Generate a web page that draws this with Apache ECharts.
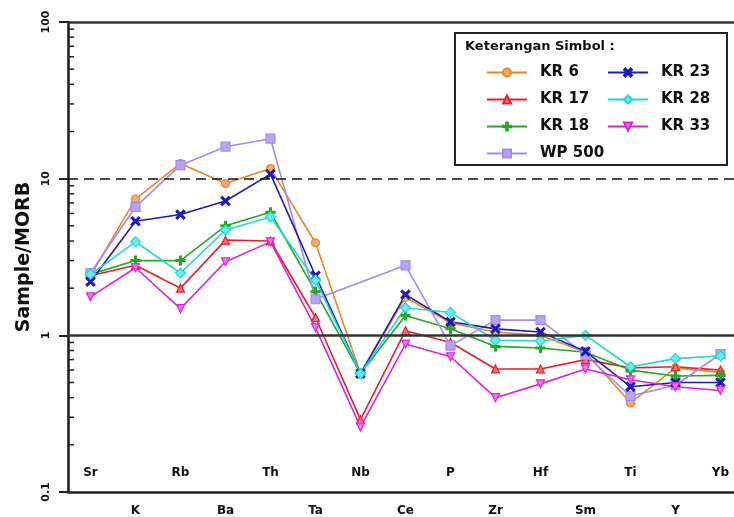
<!DOCTYPE html>
<html>
<head>
<meta charset="utf-8">
<script src="https://cdn.jsdelivr.net/npm/echarts@6/dist/echarts.min.js"></script>
<style>
  html, body { margin: 0; padding: 0; background: #fff; }
  #chart { width: 734px; height: 517px; }
</style>
</head>
<body>
<div id="chart"></div>
<script>
// unsur (elements) on the x axis
const cats = ['Sr', 'K', 'Rb', 'Ba', 'Th', 'Ta', 'Nb', 'Ce', 'P', 'Zr', 'Hf', 'Sm', 'Ti', 'Y', 'Yb'];

// Sample/MORB values
const kr6   = [2.4, 7.4, 12.5, 9.3, 11.6, 3.9, 0.57, 1.75, 1.2, 1.05, 1.0, 0.78, 0.37, 0.62, 0.58];
const kr17  = [2.4, 2.8, 2.0, 4.05, 4.0, 1.3, 0.29, 1.07, 0.9, 0.61, 0.61, 0.7, 0.62, 0.63, 0.6];
const kr18  = [2.45, 3.0, 3.0, 5.0, 6.1, 1.9, 0.57, 1.34, 1.1, 0.85, 0.83, 0.78, 0.6, 0.55, 0.555];
const wp500 = [2.5, 6.6, 12.2, 16, 18, 1.7, null, 2.8, 0.86, 1.25, 1.25, 0.75, 0.41, 0.48, 0.76];
const kr23  = [2.2, 5.35, 5.9, 7.2, 10.7, 2.4, 0.57, 1.82, 1.22, 1.1, 1.05, 0.79, 0.47, 0.5, 0.5];
const kr28  = [2.45, 3.95, 2.5, 4.7, 5.7, 2.25, 0.57, 1.5, 1.4, 0.93, 0.92, 1.0, 0.63, 0.71, 0.74];
const kr33  = [1.76, 2.7, 1.48, 2.95, 3.95, 1.12, 0.26, 0.88, 0.73, 0.40, 0.49, 0.61, 0.52, 0.47, 0.445];

// y axis minor ticks (log decades)
const minorTicks = [0.2, 0.3, 0.4, 0.5, 0.6, 0.7, 0.8, 0.9, 2, 3, 4, 5, 6, 7, 8, 9, 20, 30, 40, 50, 60, 70, 80, 90];
// reference lines
const refLines = [100, 10, 1];

const legendCol1 = ['KR 6', 'KR 17', 'KR 18', 'WP 500'];
const legendCol2 = ['KR 23', 'KR 28', 'KR 33'];

const font = 'DejaVu Sans';
const plusPath = 'path://M4,0H6V4H10V6H6V10H4V6H0V4H4Z';
const crossPath = 'path://M1.5,0L5,3.5L8.5,0L10,1.5L6.5,5L10,8.5L8.5,10L5,6.5L1.5,10L0,8.5L3.5,5L0,1.5Z';

function mkSeries(name, data, color, fill, symbol, extra) {
  return Object.assign({
    name: name,
    type: 'line',
    data: data,
    connectNulls: true,
    symbol: symbol,
    symbolSize: 8,
    lineStyle: { color: color, width: 1.6 },
    itemStyle: { color: fill, borderColor: color, borderWidth: 1.2 },
    z: 3
  }, extra || {});
}

const series = [
  mkSeries('KR 6', kr6, '#e8862c', '#f2ad6a', 'circle'),
  mkSeries('KR 17', kr17, '#e4202c', '#f07078', 'triangle'),
  mkSeries('KR 18', kr18, '#22aa22', '#22aa22', plusPath, { symbolSize: 9 }),
  mkSeries('WP 500', wp500, '#a58be8', '#b9a3f0', 'rect', { symbolSize: 9 }),
  mkSeries('KR 23', kr23, '#1c1cb8', '#1c1cb8', crossPath, { symbolSize: 9 }),
  mkSeries('KR 28', kr28, '#1ed8d8', '#6eeaea', 'diamond', { symbolSize: 10 }),
  mkSeries('KR 33', kr33, '#e020e0', '#ec78ec', 'triangle', { symbolRotate: 180 }),
  {
    type: 'custom',
    data: minorTicks,
    clip: false,
    silent: true,
    z: 5,
    renderItem: function (params, api) {
      const p = api.coord([0, api.value(0)]);
      const x = params.coordSys.x;
      return {
        type: 'line',
        shape: { x1: x, y1: p[1], x2: x + 6, y2: p[1] },
        style: { stroke: '#222', lineWidth: 1.5 }
      };
    },
    encode: { y: 0 }
  },
  {
    type: 'line',
    data: [],
    silent: true,
    markLine: {
      silent: true,
      symbol: 'none',
      label: { show: false },
      data: refLines.map(function (v) {
        return {
          yAxis: v,
          lineStyle: v === 10
            ? { color: '#111', width: 1.6, type: [10, 6] }
            : { color: '#333', width: 2.6, type: 'solid' }
        };
      })
    }
  }
];

const legendBase = {
  orient: 'vertical',
  itemWidth: 40,
  itemHeight: 10,
  itemGap: 12,
  z: 20,
  textStyle: { fontFamily: font, fontWeight: 'bold', fontSize: 15, color: '#111', padding: [0, 0, 0, 8] },
  selectedMode: false
};

const option = {
  animation: false,
  backgroundColor: '#fff',
  grid: { left: 68, right: -9, top: 22, bottom: 25, outerBoundsMode: 'none' },
  xAxis: [
    {
      type: 'category',
      data: cats,
      boundaryGap: true,
      axisLine: { lineStyle: { color: '#222', width: 2.6 } },
      axisTick: {
        inside: true, length: 8, alignWithLabel: true,
        interval: function (i) { return i % 2 === 0; },
        lineStyle: { color: '#222', width: 1.5 }
      },
      axisLabel: {
        inside: true, margin: 13, interval: 0,
        formatter: function (v, i) { return i % 2 === 0 ? v : ''; },
        fontFamily: font, fontWeight: 'bold', fontSize: 12, color: '#111'
      },
      splitLine: { show: false }
    },
    {
      type: 'category',
      data: cats,
      position: 'bottom',
      boundaryGap: true,
      axisLine: { show: false },
      axisTick: {
        inside: false, length: 8, alignWithLabel: true,
        interval: function (i) { return i % 2 === 1; },
        lineStyle: { color: '#222', width: 1.5 }
      },
      axisLabel: {
        margin: 13, interval: 0,
        formatter: function (v, i) { return i % 2 === 1 ? v : ''; },
        fontFamily: font, fontWeight: 'bold', fontSize: 12, color: '#111'
      },
      splitLine: { show: false }
    }
  ],
  yAxis: {
    type: 'log',
    logBase: 10,
    min: 0.1,
    max: 100,
    name: 'Sample/MORB',
    nameLocation: 'middle',
    nameGap: 32,
    nameTextStyle: { fontFamily: font, fontWeight: 'bold', fontSize: 19, color: '#111' },
    axisLine: { show: true, lineStyle: { color: '#222', width: 2.6 } },
    axisTick: { show: true, inside: false, length: 9, lineStyle: { color: '#222', width: 2 } },
    axisLabel: {
      rotate: 90, margin: 16,
      fontFamily: font, fontWeight: 'bold', fontSize: 11, color: '#111'
    },
    splitLine: { show: false }
  },
  legend: [
    Object.assign({ data: legendCol1, left: 481, top: 60 }, legendBase),
    Object.assign({ data: legendCol2, left: 602, top: 60 }, legendBase)
  ],
  graphic: [
    {
      type: 'rect',
      shape: { x: 455, y: 33, width: 272, height: 132 },
      style: { fill: '#fff', stroke: '#222', lineWidth: 2 },
      z: 8
    },
    {
      type: 'text',
      left: 465, top: 40,
      style: { text: 'Keterangan Simbol :', fontFamily: font, fontWeight: 'bold', fontSize: 13, fill: '#111' },
      z: 21
    }
  ],
  series: series
};

const myChart = echarts.init(document.getElementById('chart'));
myChart.setOption(option);
</script>
</body>
</html>
